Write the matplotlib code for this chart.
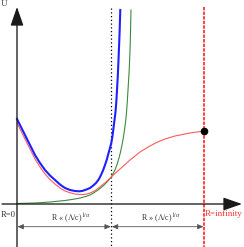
import matplotlib
matplotlib.use("Agg")
import matplotlib.pyplot as plt

# readings from the picture (R from the U axis, U from the R axis, in px-ish units)
blue_R = [0, 4, 8, 13, 18, 23, 28, 33, 38, 43, 48, 53, 58, 62, 65, 69, 73, 76, 79, 82, 84,
          86, 88, 90, 91, 92.7, 94.3, 95.5, 96.5, 97.5, 98.5, 99.3, 100, 100.8, 101.5, 102.5, 103.3]
blue_U = [85, 77, 69, 59, 49, 41, 34, 28.5, 24, 19.5, 16, 14, 13, 12.7, 13, 14.3, 16, 18.3, 21, 25, 29,
          33.5, 39, 45, 49, 55, 61, 68, 76, 84, 92, 102, 114, 128, 144, 169, 194]

red_R = [0, 4, 8, 13, 18, 23, 28, 33, 38, 43, 48, 53, 58, 62, 66, 70, 73, 76, 79, 84, 89, 94.3,
         98, 103, 108, 113, 118, 123, 128, 133, 138, 143, 148, 153, 158, 163, 168, 173, 180, 187]
red_U = [81, 73, 65, 55, 45, 37, 30, 24.5, 20, 16, 13, 11.3, 10, 9.6, 9.5, 10, 11, 12.3, 14, 18, 22, 27,
         30.5, 35, 39.5, 44, 48, 52, 55, 58, 60.7, 63, 65, 66.5, 68, 69, 70, 71, 72, 73]

green_R = [0, 18, 33, 48, 58, 63, 68, 73, 77, 81, 84, 87, 89, 91, 94.3, 96, 98, 100, 102, 103.5,
           105, 106.3, 107.5, 108.7, 109.7, 110.4, 111, 111.6, 112.2, 112.7, 113.2, 113.6, 114]
green_U = [0.5, 1, 2, 3.5, 5, 6, 7.3, 9, 11.3, 14, 16.3, 19, 21, 23, 27, 30.3, 34, 39.5, 46, 52,
           59, 66, 74, 83, 94, 104, 114, 124, 134, 146, 159, 176, 194]

R_cross = 94.3   # (Λ/c)^{1/α}
R_inf = 187
U_inf = 73

plt.rcParams['font.family'] = ['Liberation Serif', 'DejaVu Serif']
plt.rcParams['mathtext.fontset'] = 'stix'

fig = plt.figure(figsize=(2.44, 2.47), dpi=100)
ax = fig.add_axes([0, 0, 1, 1])
ax.set_xlim(-17, 227)
ax.set_ylim(-43, 204)
ax.axis('off')

axc = '#1a1a1a'
ar = dict(arrowstyle='-|>,head_length=1.15,head_width=0.4', lw=0.95, color=axc,
          mutation_scale=10, shrinkA=0, shrinkB=0)
ax.annotate('', xy=(225, 0), xytext=(-15, 0), arrowprops=ar)
ax.annotate('', xy=(0, 197), xytext=(0, -43), arrowprops=ar)

# guide lines
ax.plot([R_cross, R_cross], [196, -43], color='black', lw=0.9, dashes=(1, 2))
ax.plot([R_inf, R_inf], [197, -43], color='#ff1010', lw=1.1, dashes=(2.2, 0.8))

ax.plot(green_R, green_U, color='#3c8a3c', lw=0.8)
ax.plot(red_R, red_U, color='#ff5a5a', lw=0.8)
ax.plot(blue_R, blue_U, color='#1f1fff', lw=1.5)
ax.plot([R_inf], [U_inf], 'o', color='black', ms=4.5)

# range arrows
rng = dict(arrowstyle='<|-|>,head_length=0.35,head_width=0.15', lw=0.6, color='#555555',
           mutation_scale=10, shrinkA=0, shrinkB=0)
ax.annotate('', xy=(0.5, -22.7), xytext=(R_cross - 0.5, -22.7), arrowprops=rng)
ax.annotate('', xy=(R_cross + 0.5, -22.7), xytext=(R_inf - 0.5, -22.7), arrowprops=rng)

tc = '#333333'
ax.text(R_cross / 2 + 7, -21, r'R « ($\Lambda$/c)$^{1/\alpha}$', fontsize=5.8, color=tc,
        ha='center', va='bottom')
ax.text((R_cross + R_inf) / 2 + 3, -21, r'R » ($\Lambda$/c)$^{1/\alpha}$', fontsize=5.8, color=tc,
        ha='center', va='bottom')
ax.text(-0.8, -11, 'R=0', fontsize=6.2, color=tc, ha='right', va='center')
ax.text(R_inf + 0.8, -9.5, 'R=infinity', fontsize=6.5, color='#ff3030', ha='left', va='center')
ax.text(-16.5, 204, 'U', fontsize=6.5, color='#444444', ha='left', va='top')

fig.savefig('out.png', dpi=100)
